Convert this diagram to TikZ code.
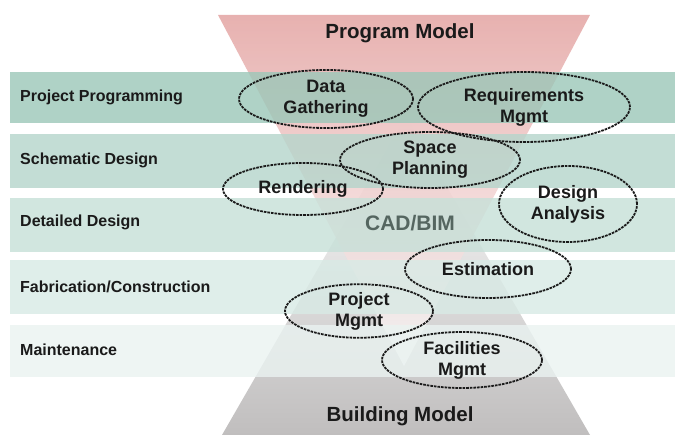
\documentclass[tikz,border=0pt]{standalone}
\usepackage{fontspec}
\setmainfont{Liberation Sans}
\usetikzlibrary{shapes.geometric}
\definecolor{pinkT}{RGB}{224,152,150}
\definecolor{grayB}{RGB}{192,190,190}
\definecolor{bandA}{RGB}{155,199,184}
\definecolor{bandB}{RGB}{180,213,203}
\definecolor{bandC}{RGB}{198,224,216}
\definecolor{bandD}{RGB}{216,234,229}
\definecolor{bandE}{RGB}{234,243,241}
\definecolor{cadc}{RGB}{85,102,96}
\definecolor{inkc}{RGB}{26,26,26}
\begin{document}
\begin{tikzpicture}[x=1pt,y=-1pt,
  bandbox/.style={fill opacity=0.8, draw=none},
  lab/.style={anchor=west, font=\fontsize{16}{18}\selectfont\bfseries, text=inkc, inner sep=0pt},
  ell/.style={ellipse, draw=inkc, line width=1.8pt, dash pattern=on 2.6pt off 1pt,
    align=center, inner sep=0pt, font=\fontsize{18}{21}\selectfont\bfseries, text=inkc},
  titlenode/.style={font=\fontsize{20.5}{24}\selectfont\bfseries, text=inkc, inner sep=0pt}]
\useasboundingbox (0,0) rectangle (675,435);
\fill[white] (0,0) rectangle (675,435);
% funnels
\shade[top color=white, bottom color=grayB] (222,435) -- (590,435) -- (406,116) -- cycle;
\shade[top color=pinkT, bottom color=white, opacity=0.75] (218,15) -- (590,15) -- (404,366) -- cycle;
% bands
\fill[bandA, bandbox] (10,72) rectangle (675,123);
\fill[bandB, bandbox] (10,134) rectangle (675,188);
\fill[bandC, bandbox] (10,198) rectangle (675,252);
\fill[bandD, bandbox] (10,260) rectangle (675,314);
\fill[bandE, bandbox] (10,325) rectangle (675,377);
% phase labels
\node[lab] (l1) at (20,97) {Project Programming};
\node[lab] (l2) at (20,160) {Schematic Design};
\node[lab] (l3) at (20,222) {Detailed Design};
\node[lab] (l4) at (20,287) {Fabrication/Construction};
\node[lab] (l5) at (20,350) {Maintenance};
% titles
\node[titlenode] (pm) at (400,33) {Program Model};
\node[titlenode] (bm) at (400,416) {Building Model};
\node[font=\fontsize{21}{24}\selectfont\bfseries, text=cadc, inner sep=0pt] (cad) at (410,223) {CAD/BIM};
% ellipses
\node[ell, minimum width=174pt, minimum height=58pt] (dg) at (326,99) {Data\\Gathering};
\node[ell, minimum width=212pt, minimum height=70pt] (rm) at (524,107) {Requirements\\Mgmt};
\node[ell, minimum width=180pt, minimum height=56pt] (sp) at (430,160) {Space\\Planning};
\node[ell, minimum width=160pt, minimum height=52pt] (rd) at (303,189) {Rendering};
\node[ell, minimum width=138pt, minimum height=76pt] (da) at (568,204) {Design\\Analysis};
\node[ell, minimum width=166pt, minimum height=58pt] (es) at (488,269) {Estimation};
\node[ell, minimum width=148pt, minimum height=52pt] (pj) at (359,311) {Project\\Mgmt};
\node[ell, minimum width=160pt, minimum height=56pt] (fm) at (462,360) {Facilities\\Mgmt};
\end{tikzpicture}
\end{document}
